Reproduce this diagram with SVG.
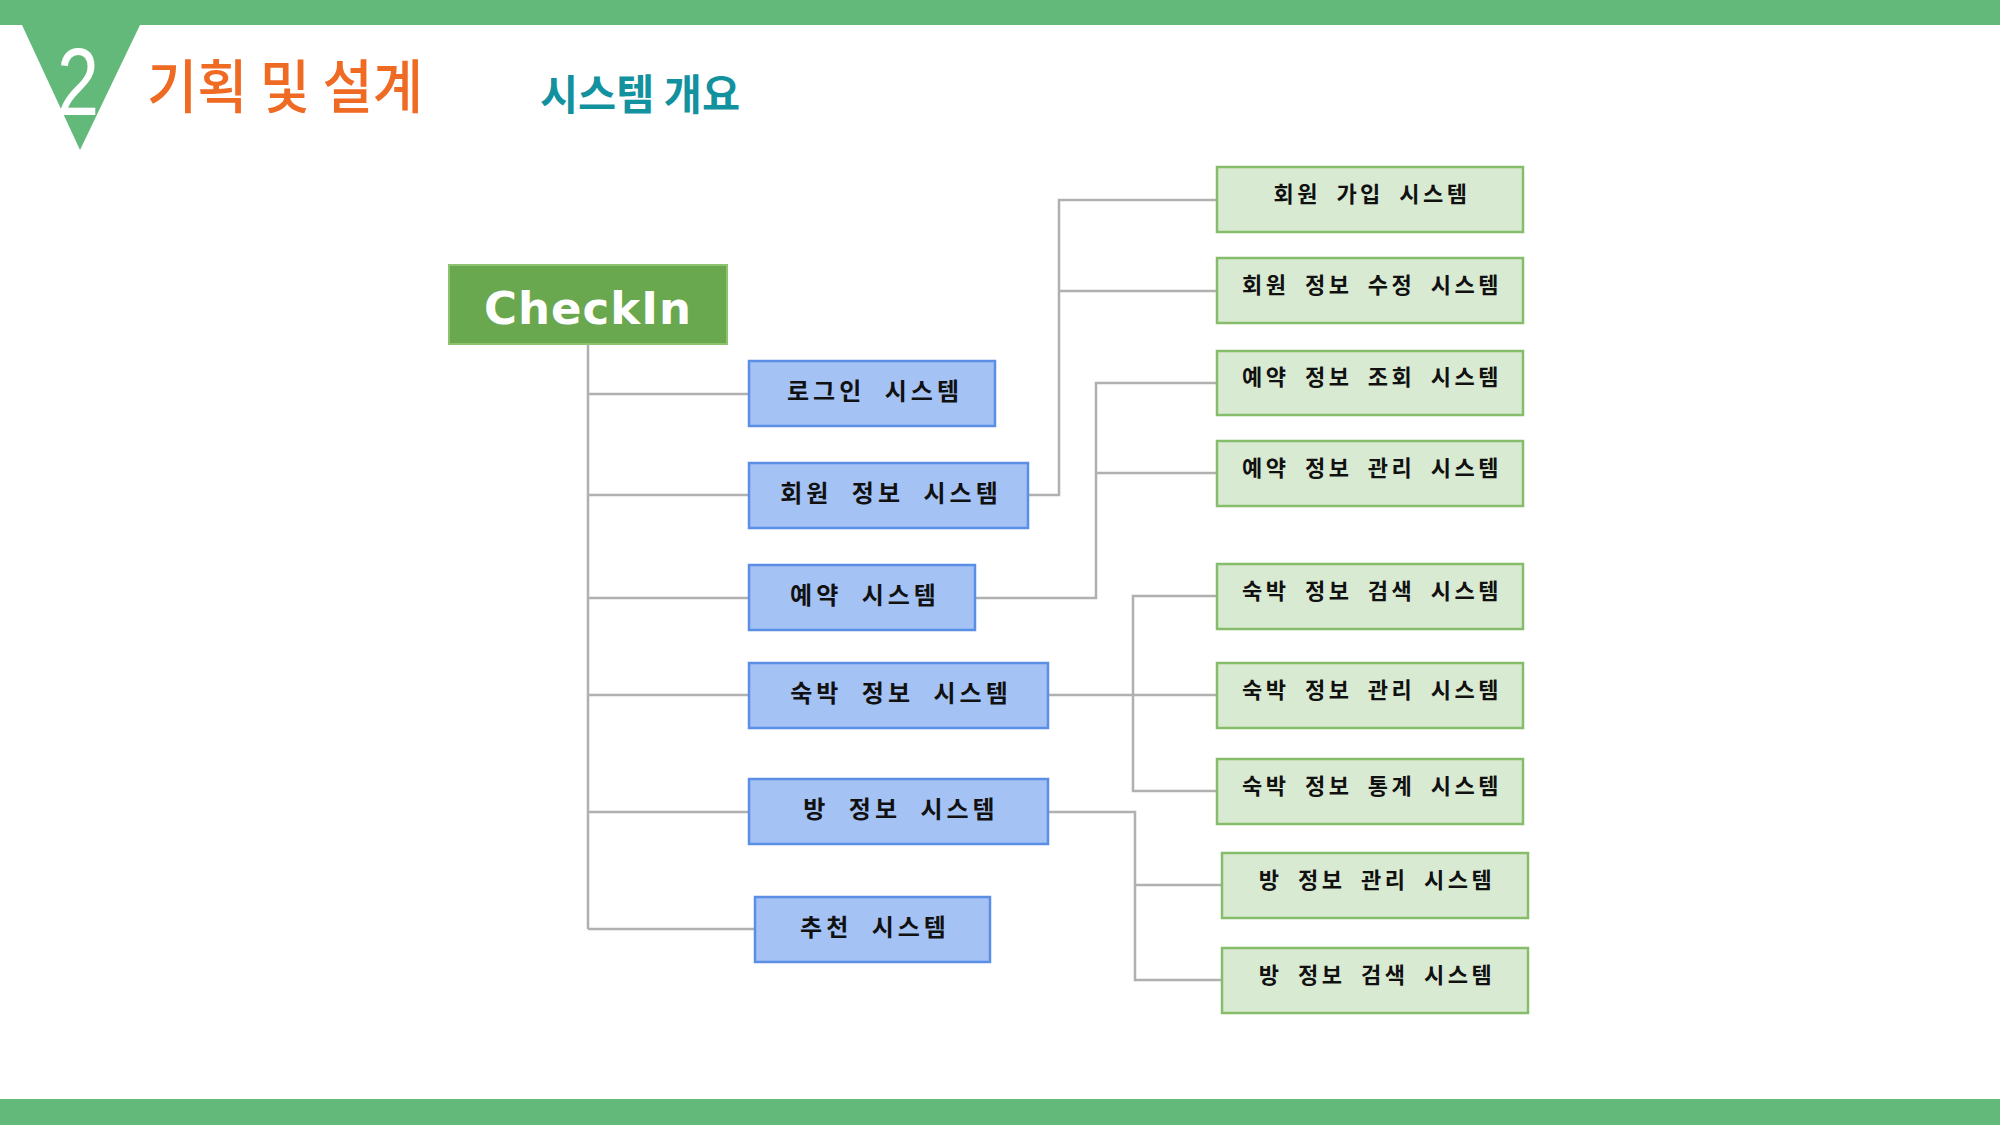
<svg xmlns="http://www.w3.org/2000/svg" width="2000" height="1125" viewBox="0 0 2000 1125">
<style>
.kr{font-family:"Noto Sans CJK KR","Noto Sans",sans-serif;font-weight:bold;}
.blue rect{fill:#a4c2f4;stroke:#5b8fe6;stroke-width:2.5;}
.green rect{fill:#d9ead3;stroke:#86bd6b;stroke-width:2.5;}
.blue text{font-size:24px;letter-spacing:4px;word-spacing:10px;fill:#111;text-anchor:middle;}
.green text{font-size:22px;letter-spacing:3.5px;word-spacing:7px;fill:#111;text-anchor:middle;}
.conn{fill:none;stroke:#b0b0b0;stroke-width:2.5;}
</style>
<rect x="0" y="0" width="2000" height="25" fill="#63b97a"/>
<rect x="0" y="1099" width="2000" height="26" fill="#63b97a"/>
<polygon points="22,25 140,25 80,150" fill="#63b97a"/>
<text x="78" y="115" font-family="Liberation Sans, sans-serif" font-size="96" fill="#ffffff" text-anchor="middle" textLength="42" lengthAdjust="spacingAndGlyphs">2</text>
<text x="147" y="108" class="kr" font-size="58" fill="#ef6a23" textLength="276" lengthAdjust="spacingAndGlyphs" style="font-weight:500">기획 및 설계</text>
<text x="540" y="110" class="kr" font-size="42" fill="#12919f" textLength="200" lengthAdjust="spacingAndGlyphs">시스템 개요</text>

<g id="connectors" class="conn">
<path d="M588,344 V929"/>
<path d="M588,394 H749"/>
<path d="M588,495 H749"/>
<path d="M588,598 H749"/>
<path d="M588,695 H749"/>
<path d="M588,812 H749"/>
<path d="M588,929 H755"/>
<path d="M1028,495 H1059 V200 H1217"/>
<path d="M1059,291 H1217"/>
<path d="M975,598 H1096 V383 H1217"/>
<path d="M1096,473 H1217"/>
<path d="M1048,695 H1217"/>
<path d="M1217,596 H1133 V791 H1217"/>
<path d="M1048,812 H1135 V980 H1222"/>
<path d="M1135,885 H1222"/>
</g>

<g id="root">
<rect x="449" y="265" width="278" height="79" fill="#6aa84f" stroke="#8cc270" stroke-width="2"/>
<text x="588" y="324" font-family="DejaVu Sans, Verdana, sans-serif" font-weight="bold" font-size="45" fill="#ffffff" text-anchor="middle" letter-spacing="1">CheckIn</text>
</g>

<g id="login" class="blue kr"><rect x="749" y="361" width="246" height="65"/><text x="875" y="400">로그인 시스템</text></g>
<g id="member" class="blue kr"><rect x="749" y="463" width="279" height="65"/><text x="891" y="502">회원 정보 시스템</text></g>
<g id="reserve" class="blue kr"><rect x="749" y="565" width="226" height="65"/><text x="865" y="604">예약 시스템</text></g>
<g id="lodging" class="blue kr"><rect x="749" y="663" width="299" height="65"/><text x="901" y="702">숙박 정보 시스템</text></g>
<g id="room" class="blue kr"><rect x="749" y="779" width="299" height="65"/><text x="901" y="818">방 정보 시스템</text></g>
<g id="recommend" class="blue kr"><rect x="755" y="897" width="235" height="65"/><text x="875" y="936">추천 시스템</text></g>

<g id="member-join" class="green kr"><rect x="1217" y="167" width="306" height="65"/><text x="1372" y="202">회원 가입 시스템</text></g>
<g id="member-edit" class="green kr"><rect x="1217" y="258" width="306" height="65"/><text x="1372" y="293">회원 정보 수정 시스템</text></g>
<g id="reserve-view" class="green kr"><rect x="1217" y="351" width="306" height="64"/><text x="1372" y="385">예약 정보 조회 시스템</text></g>
<g id="reserve-manage" class="green kr"><rect x="1217" y="441" width="306" height="65"/><text x="1372" y="476">예약 정보 관리 시스템</text></g>
<g id="lodging-search" class="green kr"><rect x="1217" y="564" width="306" height="65"/><text x="1372" y="599">숙박 정보 검색 시스템</text></g>
<g id="lodging-manage" class="green kr"><rect x="1217" y="663" width="306" height="65"/><text x="1372" y="698">숙박 정보 관리 시스템</text></g>
<g id="lodging-stats" class="green kr"><rect x="1217" y="759" width="306" height="65"/><text x="1372" y="794">숙박 정보 통계 시스템</text></g>
<g id="room-manage" class="green kr"><rect x="1222" y="853" width="306" height="65"/><text x="1377" y="888">방 정보 관리 시스템</text></g>
<g id="room-search" class="green kr"><rect x="1222" y="948" width="306" height="65"/><text x="1377" y="983">방 정보 검색 시스템</text></g>
</svg>
